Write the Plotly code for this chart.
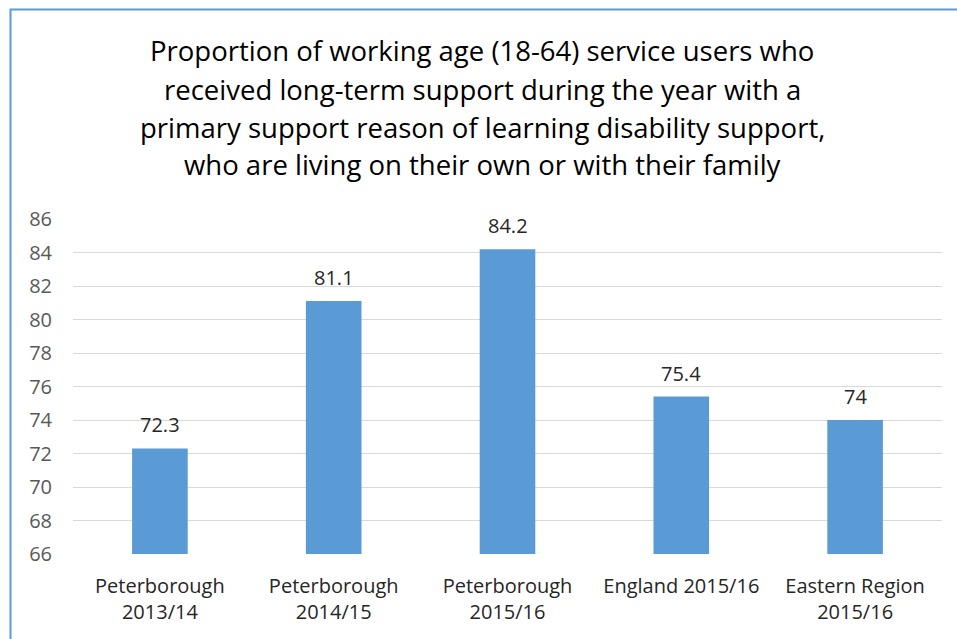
import plotly.graph_objects as go

# Chart data
categories = ["Peterborough<br>2013/14", "Peterborough<br>2014/15", "Peterborough<br>2015/16",
              "England 2015/16", "Eastern Region<br>2015/16"]
values = [72.3, 81.1, 84.2, 75.4, 74]
value_labels = ["72.3", "81.1", "84.2", "75.4", "74"]
y_ticks = [66, 68, 70, 72, 74, 76, 78, 80, 82, 84, 86]
title_lines = [
    "Proportion of working age (18-64) service users who",
    "received long-term support during the year with a",
    "primary support reason of learning disability support,",
    "who are living on their own or with their family",
]

FONT = "Open Sans"
BAR_COLOR = "#5B9BD5"

W, H = 957, 639
L, R, T, B = 73, 15, 219, 85
pw, ph = W - L - R, H - T - B


def px_to_paper_x(px):
    return (px - L) / pw


def px_to_paper_y(py):
    return (H - B - py) / ph


fig = go.Figure()
fig.add_trace(go.Bar(
    x=categories, y=values,
    marker=dict(color=BAR_COLOR, line=dict(width=0)),
    width=0.32,
    hoverinfo="x+y",
))

annotations = []
# value labels sitting above each bar
for cat, val, lab in zip(categories, values, value_labels):
    annotations.append(dict(
        x=cat, y=val, xref="x", yref="y", text=lab,
        xanchor="center", yanchor="bottom", yshift=8, showarrow=False,
        font=dict(family=FONT, size=20, color="#262626"),
    ))

for i, line in enumerate(title_lines):
    annotations.append(dict(
        text=line, xref="paper", yref="paper",
        x=px_to_paper_x(482), y=px_to_paper_y(51 + i * 38),
        xanchor="center", yanchor="middle", showarrow=False,
        font=dict(family=FONT, size=27.5, color="#000000"),
    ))

fig.update_layout(
    width=W, height=H,
    margin=dict(l=L, r=R, t=T, b=B),
    paper_bgcolor="white", plot_bgcolor="white",
    showlegend=False,
    annotations=annotations,
    shapes=[dict(
        type="rect", xref="paper", yref="paper",
        x0=px_to_paper_x(10.5), x1=px_to_paper_x(990),
        y0=px_to_paper_y(700), y1=px_to_paper_y(9.5),
        line=dict(color=BAR_COLOR, width=2), fillcolor="rgba(0,0,0,0)",
        layer="above",
    )],
    xaxis=dict(
        showgrid=False, showline=False, ticks="",
        tickfont=dict(family=FONT, size=20, color="#262626"),
        ticklabelstandoff=18,
    ),
    yaxis=dict(
        range=[66, 86], tickvals=y_ticks, showgrid=True,
        gridcolor="#D9D9D9", gridwidth=1, zeroline=False, showline=False,
        tickfont=dict(family=FONT, size=20, color="#595959"),
        ticklabelstandoff=20,
    ),
)

fig.write_html("out.html")
